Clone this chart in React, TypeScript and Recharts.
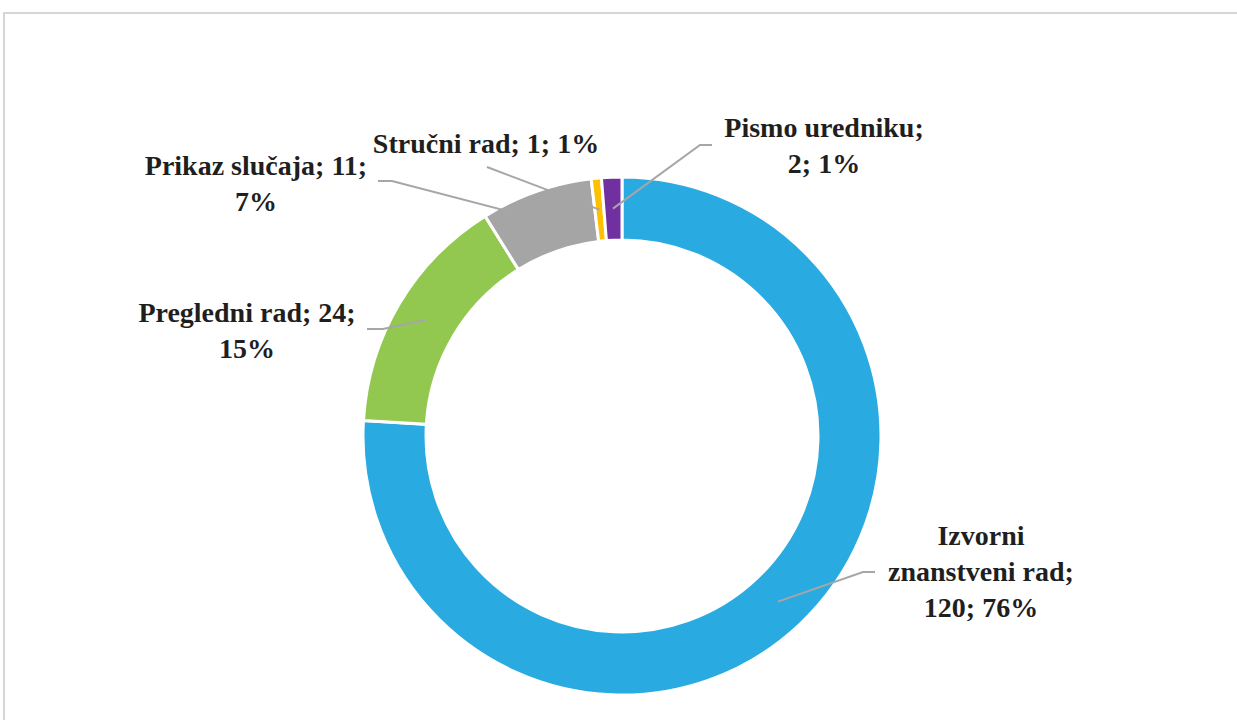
import React from 'react';
import { PieChart, Pie, Cell } from 'recharts';

// article types and counts
const categories = ['Izvorni znanstveni rad', 'Pregledni rad', 'Prikaz slučaja', 'Stručni rad', 'Pismo uredniku'];
const counts = [120, 24, 11, 1, 2];
const colors = ['#29ABE2', '#92C850', '#A5A5A5', '#FFC000', '#7030A0'];

// how many words go on each label line
const wordsPerLine = [[1, 2, 2], [3, 1], [3, 1], [4], [2, 2]];

// label placement relative to the pie centre (text centre + first baseline, leader elbow, leader end)
const labelLayout = [
  { tx: 359, ty: 109, ex: 241, ey: 136, lx: 253, ly: 136 },
  { tx: -375, ty: -114, ex: -239, ey: -107, lx: -255, ly: -107 },
  { tx: -366, ty: -261, ex: -230, ey: -255, lx: -244, ly: -255 },
  { tx: -136, ty: -283, ex: -135, ey: -269, lx: -135, ly: -269 },
  { tx: 202, ty: -299, ex: 78, ey: -291, lx: 90, ly: -291 },
];

const total = counts.reduce((a, b) => a + b, 0);
const data = categories.map((name, i) => ({ name, value: counts[i] }));

const RADIAN = Math.PI / 180;
const LINE_H = 36;

const renderLabel = (props: any) => {
  const { cx, cy, midAngle, innerRadius, outerRadius, index, name, value } = props;
  const r = (innerRadius + outerRadius) / 2;
  const ax = cx + r * Math.cos(-midAngle * RADIAN);
  const ay = cy + r * Math.sin(-midAngle * RADIAN);
  const lay = labelLayout[index];
  const pct = Math.round((value / total) * 100);
  const words = `${name}; ${value}; ${pct}%`.split(' ');
  const lines: string[] = [];
  let k = 0;
  wordsPerLine[index].forEach((n) => {
    lines.push(words.slice(k, k + n).join(' '));
    k += n;
  });
  return (
    <g key={`lbl-${index}`}>
      <polyline
        points={`${ax},${ay} ${cx + lay.ex},${cy + lay.ey} ${cx + lay.lx},${cy + lay.ly}`}
        fill="none"
        stroke="#A6A6A6"
        strokeWidth={2}
      />
      <text
        x={cx + lay.tx}
        y={cy + lay.ty}
        textAnchor="middle"
        style={{ fontFamily: "'Liberation Serif'", fontWeight: 700, fontSize: 28 }}
        fill="#1F1F1F"
      >
        {lines.map((ln, i) => (
          <tspan key={i} x={cx + lay.tx} dy={i === 0 ? 0 : LINE_H}>
            {ln}
          </tspan>
        ))}
      </text>
    </g>
  );
};

export default function App() {
  return (
    <div style={{ position: 'absolute', left: 0, top: 0, width: 1237, height: 720, background: '#fff', overflow: 'hidden' }}>
      <div
        style={{
          position: 'absolute',
          left: 3,
          top: 12,
          width: 1260,
          height: 740,
          borderTop: '2px solid #D6D6D6',
          borderLeft: '2px solid #D6D6D6',
        }}
      />
      <div style={{ position: 'absolute', left: 0, top: 0 }}>
        <PieChart width={1237} height={720} margin={{ top: 0, right: 0, bottom: 0, left: 0 }}>
          <Pie
            data={data}
            dataKey="value"
            nameKey="name"
            cx={622}
            cy={436}
            innerRadius={196}
            outerRadius={259}
            startAngle={90}
            endAngle={-270}
            stroke="#FFFFFF"
            strokeWidth={3}
            labelLine={false}
            label={renderLabel}
            isAnimationActive={false}
          >
            {data.map((entry, i) => (
              <Cell key={`cell-${i}`} fill={colors[i]} />
            ))}
          </Pie>
        </PieChart>
      </div>
    </div>
  );
}
